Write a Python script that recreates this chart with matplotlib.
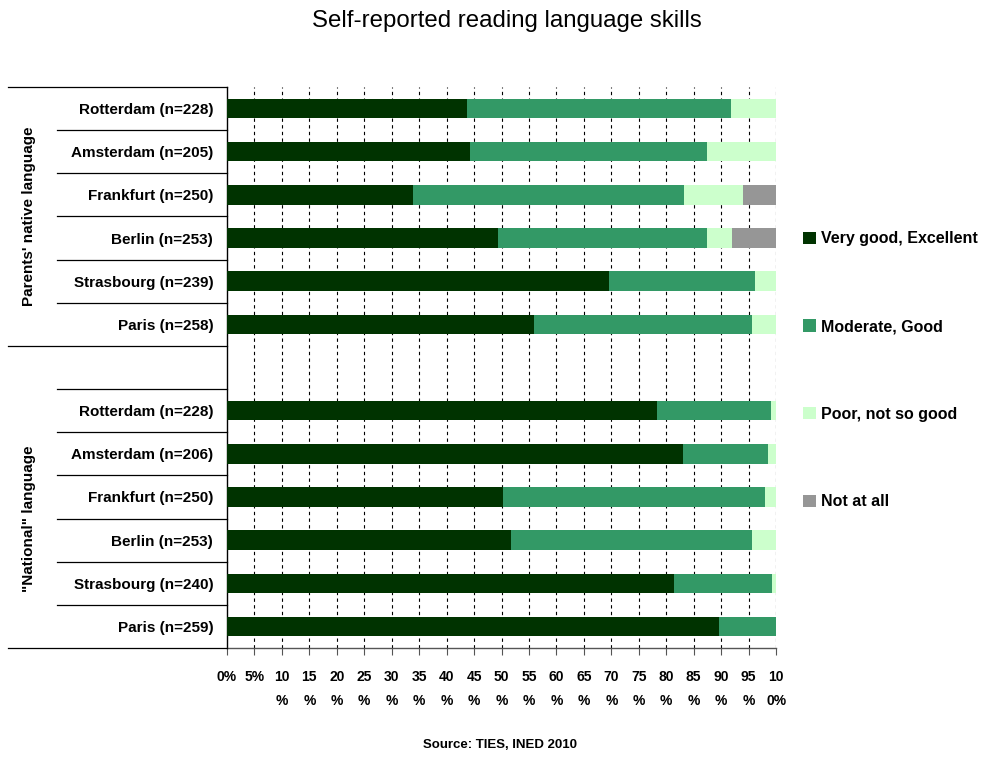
import matplotlib
matplotlib.use("Agg")
import matplotlib.pyplot as plt
import matplotlib.transforms as mtransforms
import numpy as np

plt.rcParams['font.family'] = ['Liberation Sans', 'DejaVu Sans']

# Cities per group (top to bottom)
native_labels = ["Rotterdam (n=228)", "Amsterdam (n=205)", "Frankfurt (n=250)",
                 "Berlin (n=253)", "Strasbourg (n=239)", "Paris (n=258)"]
national_labels = ["Rotterdam (n=228)", "Amsterdam (n=206)", "Frankfurt (n=250)",
                   "Berlin (n=253)", "Strasbourg (n=240)", "Paris (n=259)"]

# Shares (%) for parents' native language
native_very_good = [43.7, 44.3, 33.9, 49.4, 69.5, 56.0]
native_moderate = [48.1, 43.1, 49.3, 38.0, 26.7, 39.6]
native_poor = [8.2, 12.6, 10.8, 4.6, 3.8, 4.4]
native_not_at_all = [0.0, 0.0, 6.0, 8.0, 0.0, 0.0]

# Shares (%) for the "national" language
national_very_good = [78.4, 83.0, 50.3, 51.8, 81.4, 89.6]
national_moderate = [20.7, 15.5, 47.6, 43.8, 17.9, 10.4]
national_poor = [0.9, 1.5, 2.1, 4.4, 0.7, 0.0]
national_not_at_all = [0.0, 0.0, 0.0, 0.0, 0.0, 0.0]

series_names = ["Very good, Excellent", "Moderate, Good", "Poor, not so good", "Not at all"]
series_colors = ["#003300", "#339966", "#CCFFCC", "#969696"]

group_names = ["Parents' native language", '"National" language']
x_ticks = list(range(0, 101, 5))
x_tick_labels = ["0%", "5%"] + [f"{v}\n%" for v in range(10, 100, 5)] + ["10\n0%"]

fig = plt.figure(figsize=(9.97, 7.57), dpi=100)
ax = fig.add_axes([0.2277, 0.144, 0.5507, 0.7411])

# Row positions: six bars, one empty row, six bars
y_native = np.arange(6) + 0.5
y_national = np.arange(6) + 7.5
y_all = np.concatenate([y_native, y_national])
labels_all = native_labels + national_labels

series = [
    native_very_good + national_very_good,
    native_moderate + national_moderate,
    native_poor + national_poor,
    native_not_at_all + national_not_at_all,
]

left = np.zeros(len(y_all))
for vals, name, col in zip(series, series_names, series_colors):
    vals = np.array(vals)
    ax.barh(y_all, vals, left=left, height=0.45, color=col, label=name,
            edgecolor='none', zorder=3)
    left = left + vals

ax.set_xlim(0, 100)
ax.set_ylim(13, 0)

# dashed vertical gridlines
for x in x_ticks[1:]:
    ax.axvline(x, color='black', lw=0.8, dashes=(3, 3), zorder=1)

ax.set_xticks(x_ticks)
ax.set_xticklabels(x_tick_labels, fontsize=10, fontweight='bold', linespacing=1.9)
ax.tick_params(axis='x', direction='out', length=5, color='#555555', pad=11)

ax.set_yticks(y_all)
ax.set_yticklabels(labels_all, fontsize=11, fontweight='bold')
ax.tick_params(axis='y', length=0, pad=10)

for s in ['top', 'right']:
    ax.spines[s].set_visible(False)
ax.spines['left'].set_color('black')
ax.spines['left'].set_linewidth(1.0)
ax.spines['bottom'].set_color('#555555')
ax.spines['bottom'].set_linewidth(1.0)

# row separators in the label area
trans = mtransforms.blended_transform_factory(ax.transAxes, ax.transData)
for yb in range(14):
    if yb in (0, 6, 13):
        x0 = -0.399
    else:
        x0 = -0.31
    ax.plot([x0, 0], [yb, yb], transform=trans, color='black', lw=0.9,
            clip_on=False, zorder=4)

# rotated group labels
ax.text(-0.361, 3.0, group_names[0], transform=trans, rotation=90,
        ha='center', va='center', fontsize=11, fontweight='bold')
ax.text(-0.361, 10.0, group_names[1], transform=trans, rotation=90,
        ha='center', va='center', fontsize=11, fontweight='bold')

fig.text(0.508, 0.972, "Self-reported reading language skills", ha='center',
         va='center', fontsize=17.3)
fig.text(0.502, 0.016, "Source: TIES, INED 2010", ha='center', va='center',
         fontsize=9.5, fontweight='bold')

leg = ax.legend(loc='upper left', bbox_to_anchor=(1.038, 0.754), frameon=False,
                prop={'size': 11.5, 'weight': 'bold'}, labelspacing=4.55,
                handlelength=0.8, handleheight=0.8, handletextpad=0.3,
                borderaxespad=0)

fig.savefig("out.png", dpi=100)
